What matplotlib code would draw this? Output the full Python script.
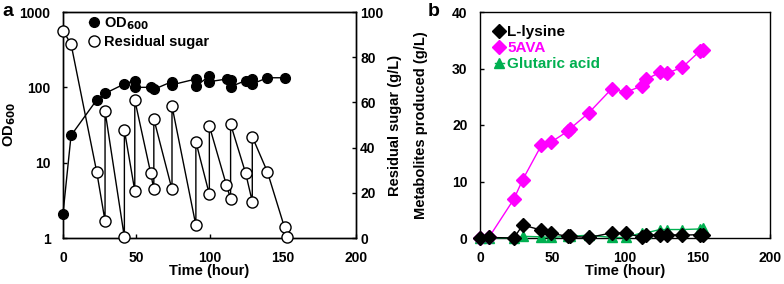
import matplotlib
matplotlib.use("Agg")
import matplotlib.pyplot as plt

plt.rcParams['font.family'] = ['Liberation Sans', 'DejaVu Sans']
plt.rcParams['font.weight'] = 'bold'
plt.rcParams['axes.labelweight'] = 'bold'

# panel a: OD600 (log, left) and residual sugar (right)
od_time = [0, 5.5, 23, 28.7, 41.9, 49, 49, 59.8, 62, 74.4, 74.4, 90.7, 90.7,
           99.9, 99.9, 112, 114.4, 114.4, 124.7, 129.2, 129.2, 139.5, 151.5]
od_val = [2.1, 23, 68, 83, 111, 123, 100, 100, 94, 119, 108, 129, 104,
          141, 119, 129, 126, 102, 123, 128, 111, 134, 134]

sugar_time = [0, 5.5, 23, 28.7, 28.7, 41.9, 41.9, 49, 49, 59.8, 62, 62, 74.4, 74.4,
              90.7, 90.7, 99.9, 99.9, 111.5, 114.4, 114.4, 124.7, 129.2, 129.2,
              139.5, 151.2, 153]
sugar_val = [91.7, 85.8, 29.3, 7.5, 56.2, 0.3, 47.8, 20.9, 61.1, 28.9, 21.5, 52.7,
             21.5, 58.4, 5.6, 42.6, 19.3, 49.6, 23.5, 17.3, 50.4, 28.6, 16.1, 44.8,
             29.3, 4.7, 0.3]

# panel b: metabolites
met_time = [0, 6.4, 23.4, 29.4, 42.3, 49.2, 60.5, 62, 75.2, 90.8, 100.5,
            111.5, 114.5, 124.1, 129.2, 139.5, 151.7, 153.5]
lysine = [0, 0.1, 0, 2.3, 1.4, 0.8, 0.3, 0.3, 0.1, 0.9, 0.9,
          0.1, 0.5, 0.6, 0.6, 0.5, 0.6, 0.6]
ava = [0, 0.2, 6.9, 10.3, 16.4, 17.0, 18.9, 19.3, 22.2, 26.4, 25.8,
       26.9, 28.1, 29.3, 29.2, 30.2, 33.1, 33.2]
glutaric = [0, 0, 0, 0.3, 0.2, 0.1, 0.3, 0.3, 0.5, 0.1, 0.1,
            0.9, 0.9, 1.5, 1.5, 1.5, 1.6, 1.7]

green = '#00B050'
magenta = '#FF00FF'

fig = plt.figure(figsize=(7.84, 2.84), dpi=100)
ax1 = fig.add_axes([63 / 784, 46 / 284, 293 / 784, 226 / 284])
ax2 = ax1.twinx()
axb = fig.add_axes([480 / 784, 46 / 284, 290 / 784, 226 / 284])

tick_kw = dict(direction='in', length=3, width=1, labelsize=10)

# OD600
ax1.plot(od_time, od_val, '-', color='black', lw=1, marker='o', ms=7,
         mfc='black', mec='black', label='OD$_{600}$', clip_on=False, zorder=3)
ax1.set_yscale('log')
ax1.set_ylim(1, 1000)
ax1.set_xlim(0, 200)
ax1.set_xticks([0, 50, 100, 150, 200])
ax1.set_yticks([1, 10, 100, 1000])
ax1.set_yticklabels(['1', '10', '100', '1000'])
ax1.minorticks_off()
ax1.tick_params(**tick_kw)
ax1.tick_params(axis='x', pad=9)
ax1.tick_params(axis='y', pad=9)
ax1.set_xlabel('Time (hour)', fontsize=10.5, labelpad=0)
ax1.set_ylabel('OD$_{600}$', fontsize=10.5, labelpad=1)

# residual sugar
ax2.plot(sugar_time, sugar_val, '-', color='black', lw=1, marker='o', ms=8,
         mfc='white', mec='black', mew=1, label='Residual sugar', clip_on=False, zorder=3)
ax2.set_ylim(0, 100)
ax2.set_yticks([0, 20, 40, 60, 80, 100])
ax2.tick_params(**tick_kw)
ax2.tick_params(axis='y', pad=3)
ax2.set_ylabel('Residual sugar (g/L)', fontsize=10.5, labelpad=3)

h1, l1 = ax1.get_legend_handles_labels()
h2, l2 = ax2.get_legend_handles_labels()
ax2.legend(h1 + h2, l1 + l2, loc='upper left', bbox_to_anchor=(0.07, 1.01),
           frameon=False, fontsize=10.5, handlelength=0.6, handletextpad=0.4,
           labelspacing=0.2, borderaxespad=0)

for ax in (ax1, ax2):
    for s in ax.spines.values():
        s.set_linewidth(1)

# metabolites
axb.plot(met_time, glutaric, '-', color=green, lw=1, marker='^', ms=7.5,
         mfc=green, mec=green, label='Glutaric acid', clip_on=False, zorder=3)
axb.plot(met_time, ava, '-', color=magenta, lw=1, marker='D', ms=7,
         mfc=magenta, mec=magenta, label='5AVA', clip_on=False, zorder=4)
axb.plot(met_time, lysine, '-', color='black', lw=1, marker='D', ms=7,
         mfc='black', mec='black', label='L-lysine', clip_on=False, zorder=5)
axb.set_xlim(0, 200)
axb.set_ylim(0, 40)
axb.set_xticks([0, 50, 100, 150, 200])
axb.set_yticks([0, 10, 20, 30, 40])
axb.tick_params(**tick_kw)
axb.tick_params(axis='x', pad=9)
axb.tick_params(axis='y', pad=9)
axb.set_xlabel('Time (hour)', fontsize=10.5, labelpad=0)
axb.set_ylabel('Metabolites produced (g/L)', fontsize=10.5, labelpad=17)
for s in axb.spines.values():
    s.set_linewidth(1)

hb, lb = axb.get_legend_handles_labels()
order = [2, 1, 0]
leg = axb.legend([hb[i] for i in order], [lb[i] for i in order], loc='upper left',
                 bbox_to_anchor=(0.03, 0.97), frameon=False, fontsize=11,
                 handlelength=0.6, handletextpad=0.2, labelspacing=0.15,
                 borderaxespad=0, labelcolor=['black', magenta, green])

fig.text(2 / 784, 1 - 12 / 284, 'a', fontsize=14, fontweight='bold', va='center')
fig.text(428 / 784, 1 - 12 / 284, 'b', fontsize=14, fontweight='bold', va='center')

fig.savefig('out.png', dpi=100)
